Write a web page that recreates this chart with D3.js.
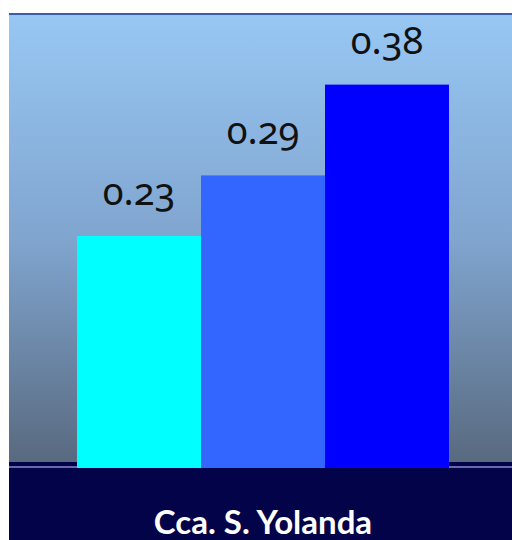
<!DOCTYPE html>
<html><head><meta charset="utf-8">
<script src="https://cdn.jsdelivr.net/npm/d3@7"></script>
<style>html,body{margin:0;padding:0;background:#fff;}svg{display:block;}</style>
</head><body>
<svg id="chart" width="512" height="540"></svg>
<script>
const category = ["Cca. S. Yolanda"];
const seriesNames = ["Serie 1", "Serie 2", "Serie 3"];
const seriesValues = [0.23, 0.29, 0.38];
const seriesColors = ["#00ffff", "#3366ff", "#0000ff"];
const valueLabels = ["0.23", "0.29", "0.38"];

(function () {
const svg = d3.select("#chart");
const W = 512, H = 540;
const padL = 9, padT = 14, baseY = 468;

const defs = svg.append("defs");
const grad = defs.append("linearGradient").attr("id", "bg").attr("x1", 0).attr("y1", 0).attr("x2", 0).attr("y2", 1);
grad.append("stop").attr("offset", "0%").attr("stop-color", "#98c7f4");
grad.append("stop").attr("offset", "50%").attr("stop-color", "#80a5cf");
grad.append("stop").attr("offset", "100%").attr("stop-color", "#58697f");

svg.append("rect").attr("x", padL).attr("y", padT).attr("width", W - padL).attr("height", 450)
  .attr("fill", "url(#bg)");
svg.append("rect").attr("x", padL).attr("y", padT - 1).attr("width", W - padL).attr("height", 2).attr("fill", "#3b5cae");
svg.append("rect").attr("x", padL).attr("y", 462).attr("width", W - padL).attr("height", H - 462).attr("fill", "#030349");
svg.append("rect").attr("x", padL).attr("y", 466).attr("width", W - padL).attr("height", 2).attr("fill", "#6a68ac");

const x = d3.scaleBand().domain(seriesNames).range([77, 449]).padding(0);
const y = d3.scaleLinear().domain([0, 0.45]).range([baseY, padT]);

const data = seriesNames.map((s, i) => ({ s, v: seriesValues[i], c: seriesColors[i], l: valueLabels[i] }));

svg.selectAll("rect.bar").data(data).join("rect").attr("class", "bar")
  .attr("x", d => x(d.s)).attr("width", x.bandwidth())
  .attr("y", d => y(d.v)).attr("height", d => baseY - y(d.v))
  .attr("fill", d => d.c);

svg.selectAll("text.val").data(data).join("text").attr("class", "val")
  .attr("x", d => x(d.s) + x.bandwidth() / 2)
  .attr("y", d => y(d.v) - 31)
  .attr("text-anchor", "middle")
  .attr("font-family", "'Noto Sans', sans-serif")
  .style("font-feature-settings", "'onum' 1")
  .attr("font-size", 38)
  .attr("fill", "#111")
  .text(d => d.l);

svg.append("text").attr("x", (77 + 449) / 2).attr("y", 534)
  .attr("text-anchor", "middle")
  .attr("font-family", "Lato, 'Open Sans', sans-serif")
  .attr("font-weight", "bold")
  .attr("font-size", 33)
  .attr("fill", "#ffffff")
  .text(category[0]);
})();
</script>
</body></html>
